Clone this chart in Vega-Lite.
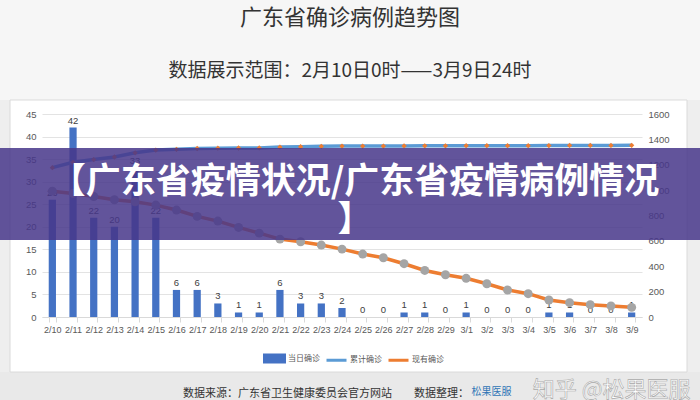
{
  "$schema": "https://vega.github.io/schema/vega-lite/v6.json",
  "width": 600,
  "height": 203,
  "autosize": "none",
  "padding": {"left": 42, "top": 114, "right": 58, "bottom": 83},
  "background": "#ffffff",
  "config": {"view": {"stroke": null}, "font": "Noto Sans CJK SC"},
  "title": {
    "text": "广东省确诊病例趋势图",
    "subtitle": "数据展示范围：2月10日0时——3月9日24时",
    "fontSize": 22,
    "fontWeight": "normal",
    "color": "#333333",
    "subtitleFontSize": 19,
    "subtitleColor": "#333333",
    "subtitlePadding": 32,
    "offset": 18,
    "anchor": "middle",
    "dx": 8,
    "dy": 100,
    "font": "Noto Sans CJK SC",
    "subtitleFont": "Noto Sans CJK SC"
  },
  "layer": [
    {
      "data": {"values": [{}]},
      "encoding": {
        "x": {"datum": -0.07, "type": "quantitative", "scale": {"domain": [0, 1], "nice": false, "zero": false}, "axis": null},
        "y": {"datum": 1.5616, "type": "quantitative", "scale": {"domain": [0, 1], "nice": false, "zero": false}, "axis": null}
      },
      "layer": [
        {
          "mark": {"type": "rect", "fill": "#f6f6f6"},
          "encoding": {"x2": {"datum": 1.0967}, "y2": {"datum": 1.069}}
        },
        {
          "mark": {"type": "rect", "fill": "#eeeeee"},
          "encoding": {"x": {"datum": -0.07, "type": "quantitative"}, "x2": {"datum": -0.0533}, "y": {"datum": 1.069, "type": "quantitative"}, "y2": {"datum": -0.271}}
        },
        {
          "mark": {"type": "rect", "fill": "#eeeeee"},
          "encoding": {"x": {"datum": 1.075, "type": "quantitative"}, "x2": {"datum": 1.0967}, "y": {"datum": 1.069, "type": "quantitative"}, "y2": {"datum": -0.271}}
        },
        {
          "mark": {"type": "rect", "fill": "#e9e9e9"},
          "encoding": {"x": {"datum": -0.07, "type": "quantitative"}, "x2": {"datum": 1.0967}, "y": {"datum": -0.271, "type": "quantitative"}, "y2": {"datum": -0.42}}
        },
        {
          "mark": {"type": "rect", "fill": "transparent", "stroke": "#dadada", "strokeWidth": 1},
          "encoding": {"x": {"datum": -0.0533, "type": "quantitative"}, "x2": {"datum": 1.075}, "y": {"datum": 1.069, "type": "quantitative"}, "y2": {"datum": -0.271}}
        }
      ]
    },
    {
      "data": {
        "values": [
          {"date": "2/10", "daily": 26, "total": 1177, "active": 992},
          {"date": "2/11", "daily": 42, "total": 1219, "active": 974},
          {"date": "2/12", "daily": 22, "total": 1241, "active": 950},
          {"date": "2/13", "daily": 20, "total": 1261, "active": 924},
          {"date": "2/14", "daily": 33, "total": 1294, "active": 908},
          {"date": "2/15", "daily": 22, "total": 1316, "active": 882},
          {"date": "2/16", "daily": 6, "total": 1322, "active": 843},
          {"date": "2/17", "daily": 6, "total": 1328, "active": 793},
          {"date": "2/18", "daily": 3, "total": 1331, "active": 756},
          {"date": "2/19", "daily": 1, "total": 1332, "active": 706},
          {"date": "2/20", "daily": 1, "total": 1333, "active": 661},
          {"date": "2/21", "daily": 6, "total": 1339, "active": 614},
          {"date": "2/22", "daily": 3, "total": 1342, "active": 593},
          {"date": "2/23", "daily": 3, "total": 1345, "active": 567},
          {"date": "2/24", "daily": 2, "total": 1347, "active": 535},
          {"date": "2/25", "daily": 0, "total": 1347, "active": 496},
          {"date": "2/26", "daily": 0, "total": 1347, "active": 467},
          {"date": "2/27", "daily": 1, "total": 1348, "active": 420},
          {"date": "2/28", "daily": 1, "total": 1349, "active": 367},
          {"date": "2/29", "daily": 0, "total": 1349, "active": 333},
          {"date": "3/1", "daily": 1, "total": 1350, "active": 305},
          {"date": "3/2", "daily": 0, "total": 1350, "active": 262},
          {"date": "3/3", "daily": 0, "total": 1350, "active": 213},
          {"date": "3/4", "daily": 0, "total": 1350, "active": 184},
          {"date": "3/5", "daily": 1, "total": 1351, "active": 134},
          {"date": "3/6", "daily": 1, "total": 1352, "active": 113},
          {"date": "3/7", "daily": 0, "total": 1352, "active": 97},
          {"date": "3/8", "daily": 0, "total": 1352, "active": 87},
          {"date": "3/9", "daily": 1, "total": 1353, "active": 76}
        ]
      },
      "encoding": {
        "x": {
          "field": "date",
          "type": "ordinal",
          "sort": null,
          "scale": {"paddingInner": 0.65, "paddingOuter": 0.325},
          "axis": {
            "title": null,
            "labelAngle": 0,
            "labelFont": "Liberation Sans",
            "labelFontSize": 9,
            "labelColor": "#595959",
            "labelPadding": 3,
            "domainColor": "#d9d9d9",
            "tickColor": "#d9d9d9",
            "tickBand": "extent",
            "tickSize": 5
          }
        }
      },
      "layer": [
        {
          "encoding": {
            "y": {
              "field": "daily",
              "type": "quantitative",
              "scale": {"domain": [0, 45], "nice": false},
              "axis": {
                "title": null,
                "orient": "left",
                "values": [0, 5, 10, 15, 20, 25, 30, 35, 40, 45],
                "grid": true,
                "gridColor": "#e3e3e3",
                "domain": false,
                "ticks": false,
                "labelFont": "Liberation Sans",
                "labelFontSize": 9.5,
                "labelColor": "#595959",
                "labelPadding": 6
              }
            }
          },
          "layer": [
            {
              "mark": {"type": "bar"},
              "encoding": {
                "color": {
                  "datum": "当日确诊",
                  "type": "nominal",
                  "scale": {"domain": ["当日确诊", "累计确诊", "现有确诊"], "range": ["#4472C4", "#5B9BD5", "#ED7D31"]},
                  "legend": {
                    "orient": "none",
                    "legendX": 221,
                    "legendY": 233,
                    "direction": "horizontal",
                    "title": null,
                    "labelFontSize": 8,
                    "labelColor": "#595959",
                    "labelFont": "Noto Sans CJK SC",
                    "symbolSize": 400,
                    "columnPadding": 0,
                    "labelOffset": 2,
                    "encode": {
                      "symbols": {
                        "update": {
                          "shape": {"signal": "datum.value === '当日确诊' ? 'M-1,-0.35H1V0.35H-1Z' : 'M-1,0H1'"},
                          "fill": {"signal": "datum.value === '当日确诊' ? '#4472C4' : 'transparent'"},
                          "stroke": {"signal": "datum.value === '当日确诊' ? 'transparent' : (datum.value === '累计确诊' ? '#5B9BD5' : '#ED7D31')"},
                          "strokeWidth": {"value": 3},
                          "opacity": {"value": 1}
                        }
                      }
                    }
                  }
                }
              }
            },
            {
              "mark": {"type": "text", "dy": -7, "fontSize": 9.5, "color": "#404040", "font": "Liberation Sans"},
              "encoding": {"text": {"field": "daily", "type": "quantitative"}}
            }
          ]
        },
        {
          "encoding": {
            "y": {
              "type": "quantitative",
              "scale": {"domain": [0, 1600], "nice": false},
              "axis": {
                "title": null,
                "orient": "right",
                "values": [0, 200, 400, 600, 800, 1000, 1200, 1400, 1600],
                "format": "d",
                "grid": false,
                "domain": false,
                "ticks": false,
                "labelFont": "Liberation Sans",
                "labelFontSize": 9.5,
                "labelColor": "#595959",
                "labelPadding": 6
              }
            }
          },
          "layer": [
            {
              "mark": {"type": "line", "strokeWidth": 3.5},
              "encoding": {"y": {"field": "total"}, "color": {"datum": "累计确诊", "type": "nominal"}}
            },
            {
              "mark": {"type": "point", "shape": "diamond", "filled": true, "size": 28, "color": "#ED7D31", "opacity": 1},
              "encoding": {"y": {"field": "total"}}
            },
            {
              "mark": {"type": "line", "strokeWidth": 3.5},
              "encoding": {"y": {"field": "active"}, "color": {"datum": "现有确诊", "type": "nominal"}}
            },
            {
              "mark": {"type": "point", "shape": "circle", "filled": true, "size": 80, "color": "#A5A5A5", "opacity": 1},
              "encoding": {"y": {"field": "active"}}
            }
          ],
          "resolve": {"scale": {"y": "shared"}}
        }
      ],
      "resolve": {"scale": {"y": "independent"}}
    },
    {
      "data": {"values": [{}]},
      "encoding": {
        "x": {"datum": -0.07, "type": "quantitative", "scale": {"domain": [0, 1], "nice": false, "zero": false}, "axis": null},
        "y": {"datum": 0.8325, "type": "quantitative", "scale": {"domain": [0, 1], "nice": false, "zero": false}, "axis": null}
      },
      "layer": [
        {
          "mark": {"type": "rect", "fill": "#46368a", "opacity": 0.85},
          "encoding": {"x2": {"datum": 1.0967}, "y2": {"datum": 0.379}}
        },
        {
          "mark": {"type": "text", "text": "【广东省疫情状况/广东省疫情病例情况\n】", "lineBreak": "\n", "lineHeight": 38, "fontSize": 35, "fontWeight": "bold", "font": "Noto Sans CJK SC", "color": "#ffffff", "align": "center", "baseline": "middle"},
          "encoding": {"x": {"datum": 0.5217, "type": "quantitative"}, "y": {"datum": 0.665, "type": "quantitative"}}
        },
        {
          "mark": {"type": "text", "text": "数据来源：广东省卫生健康委员会官方网站　　数据整理：", "fontSize": 11, "font": "Noto Sans CJK SC", "color": "#333333", "align": "left", "baseline": "middle"},
          "encoding": {"x": {"datum": 0.235, "type": "quantitative"}, "y": {"datum": -0.38, "type": "quantitative"}}
        },
        {
          "mark": {"type": "text", "text": "松果医服", "fontSize": 10, "font": "Noto Sans CJK SC", "color": "#2e75b6", "align": "left", "baseline": "middle"},
          "encoding": {"x": {"datum": 0.716, "type": "quantitative"}, "y": {"datum": -0.37, "type": "quantitative"}}
        },
        {
          "mark": {"type": "text", "text": "知乎 @松果医服", "fontSize": 22, "font": "Noto Sans CJK SC", "color": "#ffffff", "stroke": "#a8a8a8", "strokeWidth": 0.6, "align": "left", "baseline": "middle"},
          "encoding": {"x": {"datum": 0.818, "type": "quantitative"}, "y": {"datum": -0.36, "type": "quantitative"}}
        }
      ]
    }
  ],
  "resolve": {"scale": {"x": "independent", "y": "independent"}}
}
